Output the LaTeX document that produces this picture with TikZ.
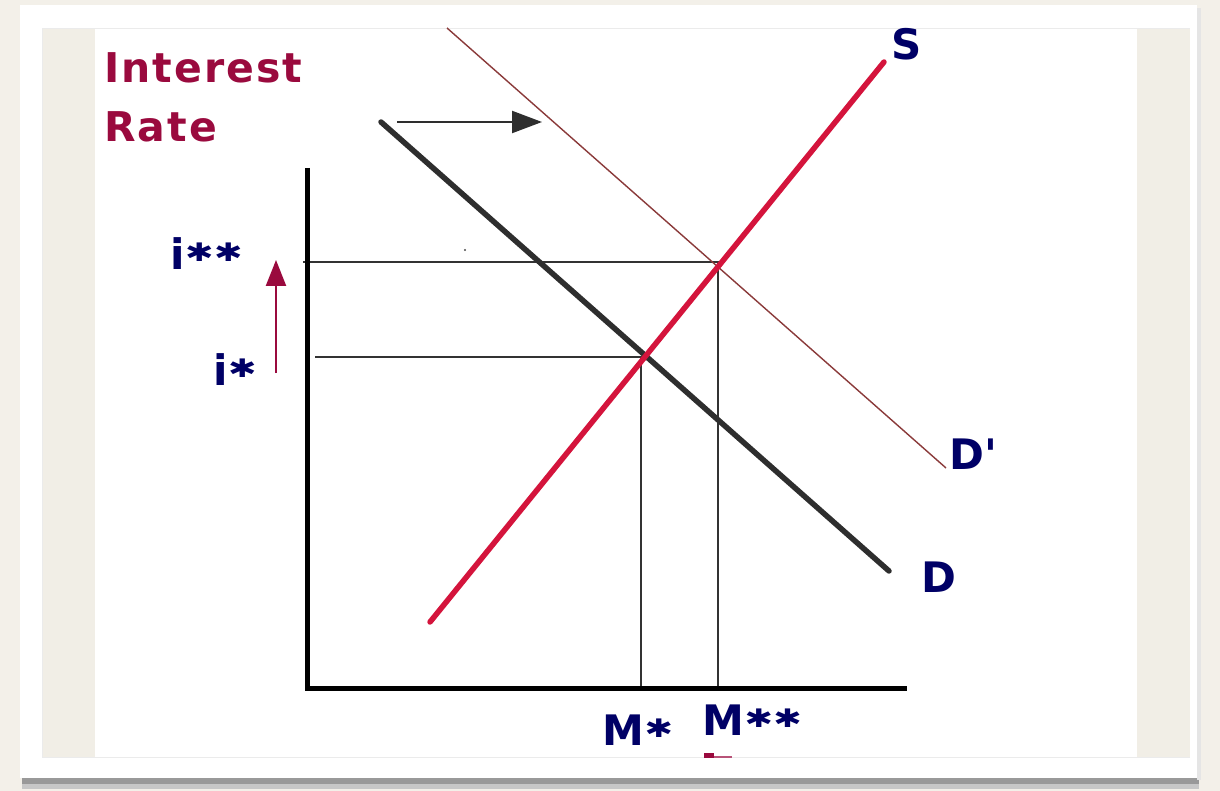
\documentclass[tikz,border=0pt]{standalone}
\usepackage{fontspec}
\usepackage{graphicx}
\setmainfont{DejaVu Sans}
\usetikzlibrary{arrows.meta}
\definecolor{bgbeige}{HTML}{F3F0E9}
\definecolor{stripbeige}{HTML}{F1EEE6}
\definecolor{maroon}{HTML}{9A0A3E}
\definecolor{navy}{HTML}{000066}
\definecolor{supred}{HTML}{D4143C}
\definecolor{demgray}{HTML}{2E2E2E}
\definecolor{dprime}{HTML}{8A3A3A}
\newcommand{\bigstar}{\hspace{0.5pt}\raisebox{8pt}{\scalebox{1.0}[0.75]{\fontsize{34}{34}\selectfont\char"2731}}}
\tikzset{
  lbl/.style={inner sep=0pt, anchor=base west, font=\fontsize{42}{42}\selectfont\bfseries},
  axislbl/.style={lbl, text=maroon, font=\fontsize{41}{41}\selectfont\bfseries\addfontfeature{LetterSpace=5}},
  navylbl/.style={lbl, text=navy},
  guide/.style={draw=black!80, line width=1.8pt},
}
\begin{document}
\begin{tikzpicture}[x=1pt,y=-1pt]
\useasboundingbox (0,0) rectangle (1220,791);
% backgrounds
\fill[bgbeige] (0,0) rectangle (1220,791);
\fill[black!40] (22,776) rectangle (1199,784);
\fill[black!22] (22,784) rectangle (1199,789);
\fill[black!10] (1197,8) rectangle (1201,780);
\fill[white] (20,5) rectangle (1197,778);
\fill[stripbeige] (42,28) rectangle (95,757);
\fill[stripbeige] (1137,28) rectangle (1190,757);
\draw[black!8, line width=0.8pt] (42,757) -- (42,28) -- (1190,28);
\draw[black!8, line width=0.8pt] (42,757) -- (1190,757);
% named points
\coordinate (O) at (307,688);
\coordinate (ytop) at (307,168);
\coordinate (xend) at (907,688);
\coordinate (Sa) at (430,622);
\coordinate (Sb) at (884,62);
\coordinate (Da) at (381,122);
\coordinate (Db) at (889,571);
\coordinate (Dpa) at (447,28);
\coordinate (Dpb) at (946,468);
\coordinate (E2) at (718,262);
\coordinate (E1) at (641,357);
\coordinate (h2) at (303,262);
\coordinate (h1) at (315,357);
\coordinate (b2) at (718,688);
\coordinate (b1) at (641,688);
\coordinate (arA) at (397,122);
\coordinate (arB) at (542,122);
\coordinate (upA) at (276,373);
\coordinate (upB) at (276,260);
% guides
\draw[guide] (h2) -- (E2) -- (b2);
\draw[guide] (h1) -- (E1) -- (b1);
% curves
\draw[dprime, line width=1.4pt] (Dpa) -- (Dpb);
\draw[demgray, line width=5.5pt, line cap=round] (Da) -- (Db);
\draw[supred, line width=5.5pt, line cap=round] (Sa) -- (Sb);
% axes
\draw[black, line width=5pt] (ytop) -- (O) -- (xend);
% arrows
\draw[demgray, line width=2.2pt, -{Triangle[length=30pt,width=22pt]}] (arA) -- (arB);
\draw[maroon, line width=2.4pt, -{Triangle[length=26pt,width=20pt]}] (upA) -- (upB);
% labels
\node[axislbl] (lint) at (104,83) {Interest};
\node[axislbl] (lrate) at (104,142) {Rate};
\node[navylbl] (li2) at (170,270) {i\bigstar\bigstar};
\node[navylbl] (li1) at (213,385) {i\bigstar};
\node[navylbl] (lS) at (891,60) {S};
\node[navylbl] (lDp) at (949,469) {D\textquotesingle};
\node[navylbl] (lD) at (921,592) {D};
\node[navylbl] (lM1) at (602,745) {M\bigstar};
\node[navylbl] (lM2) at (702,735) {M\bigstar\bigstar};
% small marks
\fill[maroon] (704,753) rectangle (714,758);
\fill[maroon!70] (714,756) rectangle (732,758);
\fill[black!70] (465,250) circle (1.2pt);
\end{tikzpicture}
\end{document}
